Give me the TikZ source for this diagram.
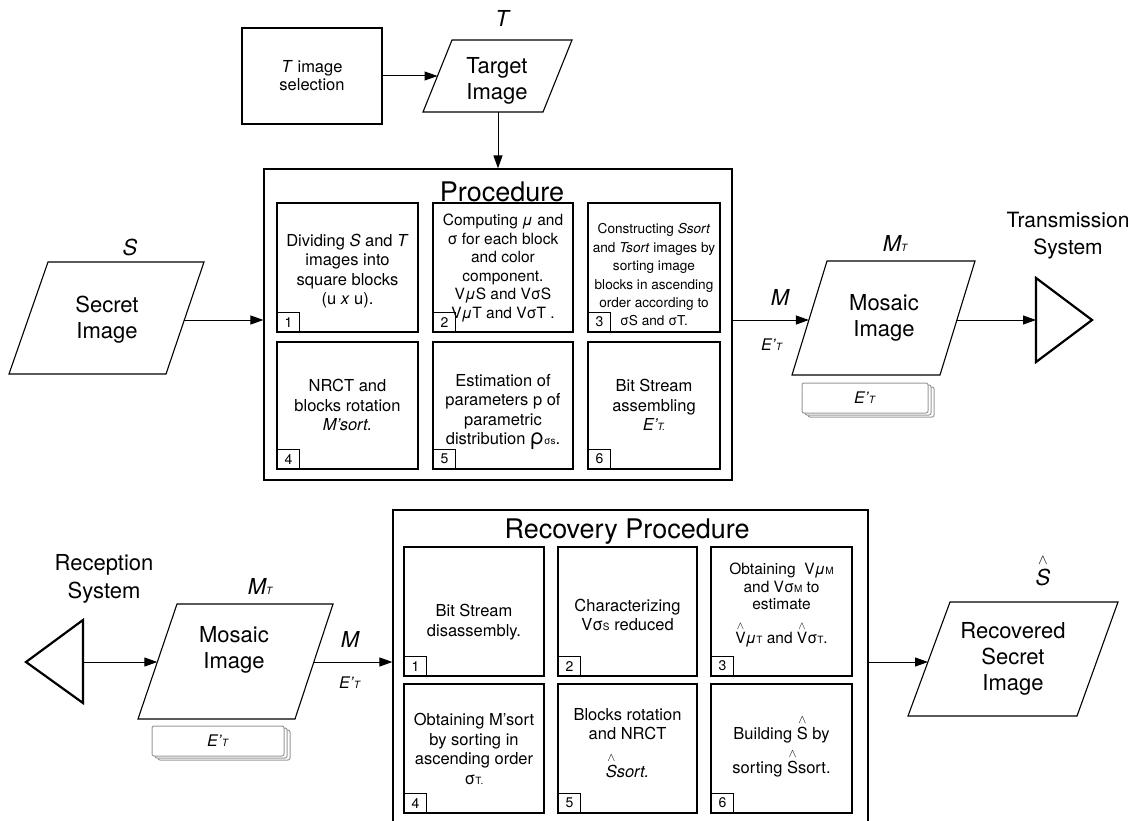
\documentclass[tikz,border=0pt]{standalone}
\usepackage{amsmath}
\usepackage{fontspec}
\setmainfont{TeX Gyre Heros}
\usetikzlibrary{arrows.meta}
\newcommand\lsub[1]{{\fontsize{10}{10}\selectfont #1}}
\newcommand\fs[2]{\fontsize{#1}{#2}\selectfont}
\newcommand\hatover[1]{$\overset{\wedge}{\text{#1}}$}
\newcommand\Ept{\textit{E’}\lsub{\textit{T}}}
\begin{document}
\begin{tikzpicture}[x=1pt,y=-1pt,
  frame/.style={draw, line width=1.2pt, inner sep=0pt},
  stepbox/.style={draw, line width=1.1pt, minimum width=141pt, minimum height=129pt, inner sep=0pt},
  numbox/.style={draw, line width=1pt, minimum width=23pt, minimum height=20pt, inner sep=0pt, font=\fs{14}{14}, anchor=south west},
  steptext/.style={align=center, font=\fs{16.5}{19.5}, inner sep=0pt},
  imgtext/.style={align=center, font=\fs{22}{26}, inner sep=0pt},
  title/.style={font=\fs{27}{30}, inner sep=0pt},
  lbl/.style={font=\fs{22}{24}\itshape, inner sep=0pt},
  sublbl/.style={font=\fs{16}{16}, inner sep=0pt},
  para/.style={line width=1.1pt, line join=miter},
  arr/.style={-{Triangle[length=13pt,width=9pt]}, line width=1pt},
  ant/.style={line width=2.2pt, line join=miter},
  stk/.style={draw=gray!80, fill=white, line width=1pt, rounded corners=2pt, minimum height=30pt, inner sep=0pt, font=\fs{16}{16}}
]
\useasboundingbox (0,0) rectangle (1134,821);
\clip (0,0) rectangle (1134,821);

% ---------- top part ----------
\node[frame, minimum width=140pt, minimum height=96pt, align=center, font=\fs{16.5}{18}] (tsel) at (312,76) {\textit{T} image\\selection};

\draw[para] (452,40) -- (572,40) -- (543,112) -- (423,112) -- cycle;
\node[imgtext] (tgt) at (497,81) {Target\\Image};
\coordinate (tgt-w) at (437.5,76);
\coordinate (tgt-s) at (498,112);
\node[lbl] (tlbl) at (502,18) {T};

\node[frame, minimum width=468pt, minimum height=311pt] (proc) at (498,324.5) {};
\node[title] (proctitle) at (502,192) {Procedure};

\node[stepbox] (p1) at (347.5,267.5) {};
\node[stepbox, minimum width=140pt] (p2) at (503,267.5) {};
\node[stepbox, minimum width=132pt] (p3) at (654,267.5) {};
\node[stepbox, minimum height=127pt] (p4) at (347.5,405.5) {};
\node[stepbox, minimum width=140pt, minimum height=127pt] (p5) at (503,405.5) {};
\node[stepbox, minimum width=132pt, minimum height=127pt] (p6) at (654,405.5) {};
\foreach \i in {1,...,6}{\node[numbox] (p\i n) at (p\i.south west) {\i};}

\node[steptext] (p1t) at (347.5,271) {Dividing \textit{S} and \textit{T}\\images into\\square blocks\\(u \textit{x} u).};
\node[steptext, font=\fs{15.5}{18.5}] (p2t) at (503,268) {Computing \textit{μ} and\\σ for each block\\and color\\component.\\V\textit{μ}S and VσS\\V\textit{μ}T and VσT .};
\node[steptext, font=\fs{13.6}{18.4}] (p3t) at (654,275) {Constructing \textit{Ssort}\\and \textit{Tsort} images by\\sorting image\\blocks in ascending\\order according to\\σS and σT.};
\node[steptext] (p4t) at (347.5,405) {NRCT and\\blocks rotation\\\textit{M’sort.}};
\node[steptext] (p5t) at (503,412) {Estimation of\\parameters p of\\parametric\\distribution {\fs{22}{22}ρ}\lsub{σs}.};
\node[steptext] (p6t) at (654,405) {Bit Stream\\assembling\\\textit{E’\lsub{T.}}};

% secret image
\draw[para] (48,262) -- (204,262) -- (166,374) -- (9,374) -- cycle;
\node[imgtext] (sec) at (107,320) {Secret\\Image};
\coordinate (sec-e) at (184.3,320);
\node[lbl] (slbl) at (130,247) {S};

% mosaic image top
\draw[para] (827,261) -- (975,261) -- (940,375) -- (792,375) -- cycle;
\node[imgtext] (mos) at (884,318) {Mosaic\\Image};
\coordinate (mos-w) at (808.9,320);
\coordinate (mos-e) at (956.9,320);
\node[lbl] (mtlbl) at (895,243) {M\lsub{T}};
\node[lbl] (mlbl) at (780,297) {M};
\node[sublbl] (elbl) at (772,345) {\Ept};

\node[stk, minimum width=126pt] (stkA3) at (871,402) {};
\node[stk, minimum width=126pt] (stkA2) at (868,400) {};
\node[stk, minimum width=126pt] (stkA1) at (865,398) {\Ept};

% transmission
\draw[ant] (1036,278) -- (1092,320) -- (1036,362) -- cycle;
\coordinate (tx-w) at (1036,320);
\node[imgtext, font=\fs{21}{27}] (txlbl) at (1068,236) {Transmission\\System};

% top connectors
\draw[arr] (tsel.east) -- (tgt-w);
\draw[arr] (tgt-s) -- (tgt-s |- proc.north);
\draw[arr] (sec-e) -- (sec-e -| proc.west);
\draw[arr] (proc.east |- mos-w) -- (mos-w);
\draw[arr] (mos-e) -- (tx-w);

% ---------- bottom part ----------
\node[imgtext, font=\fs{22}{28}] (rxlbl) at (104,579) {Reception\\System};
\draw[ant] (83,620) -- (26,662) -- (83,703) -- cycle;
\coordinate (rx-e) at (83,662);

\draw[para] (177,604) -- (333,604) -- (295,719) -- (138,719) -- cycle;
\node[imgtext] (mos2) at (234,650) {Mosaic\\Image};
\coordinate (mos2-w) at (157.3,662);
\coordinate (mos2-e) at (313.8,662);
\node[lbl] (mt2lbl) at (260,586) {M\lsub{T}};
\node[lbl] (m2lbl) at (350,639) {M};
\node[sublbl] (e2lbl) at (350,683) {\Ept};

\node[stk, minimum width=132pt] (stkB3) at (224,745) {};
\node[stk, minimum width=132pt] (stkB2) at (221,743) {};
\node[stk, minimum width=132pt] (stkB1) at (218,741) {\Ept};

\node[frame, minimum width=475pt, minimum height=320pt] (rec) at (630.5,670) {};
\node[title] (rectitle) at (627,532) {Recovery Procedure};

\node[stepbox, minimum width=140pt] (r1) at (474,611.5) {};
\node[stepbox, minimum width=139pt] (r2) at (627.5,611.5) {};
\node[stepbox] (r3) at (781.5,611.5) {};
\node[stepbox, minimum width=140pt] (r4) at (474,748.5) {};
\node[stepbox, minimum width=139pt] (r5) at (627.5,748.5) {};
\node[stepbox] (r6) at (781.5,748.5) {};
\foreach \i in {1,...,6}{\node[numbox] (r\i n) at (r\i.south west) {\i};}

\node[steptext] (r1t) at (474,622) {Bit Stream\\disassembly.};
\node[steptext] (r2t) at (627.5,615) {Characterizing\\Vσ\lsub{S} reduced};
\node[steptext, font=\fs{15.5}{17.5}] (r3t) at (781.5,605) {Obtaining~ V\textit{μ}\lsub{M}\\and Vσ\lsub{M} to\\estimate\\[11pt]\hatover{V}\textit{μ}\lsub{T} and \hatover{V}σ\lsub{T}.};
\node[steptext] (r4t) at (474,749) {Obtaining M’sort\\by sorting in\\ascending order\\σ\lsub{T.}};
\node[steptext] (r5t) at (627.5,743) {Blocks rotation\\and NRCT\\[12pt]\textit{\hatover{S}sort.}};
\node[steptext, font=\fs{16.5}{34}] (r6t) at (781.5,746) {Building \hatover{S} by\\sorting \hatover{S}sort.};

% recovered image
\draw[para] (950,602) -- (1118,602) -- (1077,716) -- (908,716) -- cycle;
\node[imgtext] (recimg) at (1013,659) {Recovered\\Secret\\Image};
\coordinate (recimg-w) at (928,662);
\node[lbl] (shatlbl) at (1043,570) {\hatover{S}};

% bottom connectors
\draw[arr] (rx-e) -- (mos2-w);
\draw[arr] (mos2-e) -- (mos2-e -| rec.west);
\draw[arr] (rec.east |- recimg-w) -- (recimg-w);
\end{tikzpicture}
\end{document}
